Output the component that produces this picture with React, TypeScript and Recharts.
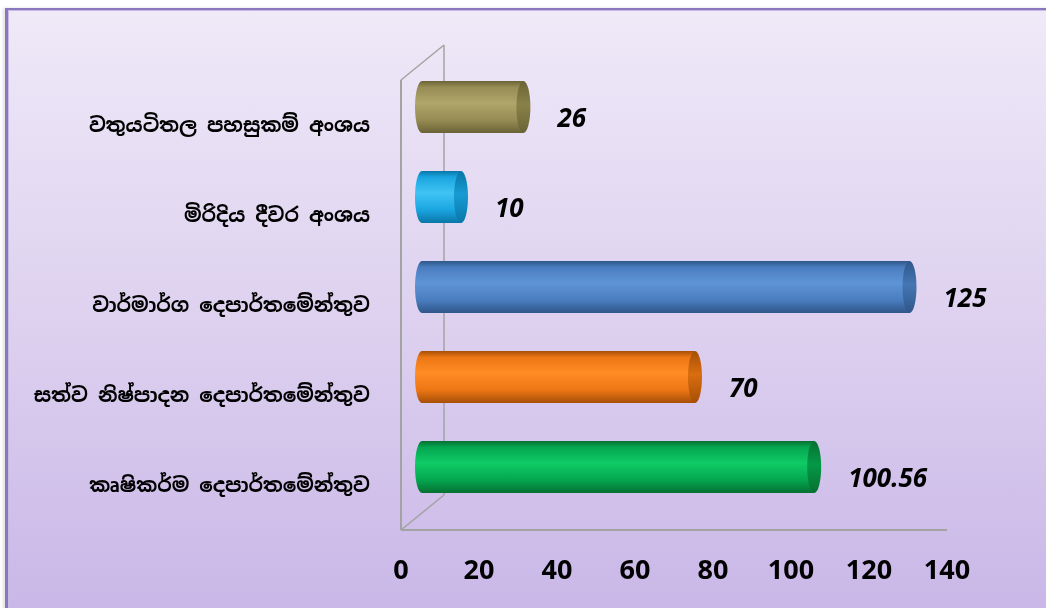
import React from "react";
import { BarChart, Bar, XAxis, YAxis, LabelList } from "recharts";

// ---- data ----
const categories = [
  "වතුයටිතල පහසුකම් අංශය",
  "මිරිදිය දීවර අංශය",
  "වාර්මාර්ග දෙපාර්තමේන්තුව",
  "සත්ව නිෂ්පාදන දෙපාර්තමේන්තුව",
  "කෘෂිකර්ම දෙපාර්තමේන්තුව",
];
const values = [26, 10, 125, 70, 100.56];
const barColors = ["olive", "cyan", "blue", "orange", "green"];
const xTicks = [0, 20, 40, 60, 80, 100, 120, 140];

const data = categories.map((name, i) => ({ name, value: values[i], color: barColors[i] }));

// ---- style ----
const palette: Record<string, { dark: string; mid: string; light: string; face: string }> = {
  olive: { dark: "#6a6336", mid: "#968c54", light: "#b0a66b", face: "#8a8149" },
  cyan: { dark: "#0a76a8", mid: "#1aa5e0", light: "#40c3f4", face: "#179bd3" },
  blue: { dark: "#2f5689", mid: "#4a7dbf", light: "#5e95d6", face: "#4576b4" },
  orange: { dark: "#a64f08", mid: "#ec7614", light: "#ff8d26", face: "#da6d0f" },
  green: { dark: "#067032", mid: "#04a650", light: "#0fcb65", face: "#059847" },
};

const NUM_FONT = "'Open Sans', 'Noto Sans', sans-serif";

const W = 1030;
const H = 597;
const MARGIN = { top: 69, right: 91, bottom: 18, left: 0 };
const YAXIS_W = 393;
const XAXIS_H = 60;
const DX = 21; // 3D depth shift of bars
const DY = -18;
const RX = 7;
const BACK_DX = 43;
const BACK_DY = -35;

const PL = MARGIN.left + YAXIS_W;
const PT = MARGIN.top;
const PB = H - MARGIN.bottom - XAXIS_H;

const Cylinder = (props: any) => {
  const { x, y, width, height, payload } = props;
  if (width == null || height == null) return null;
  const c = payload?.color || "blue";
  const x0 = x + DX;
  const x1 = x + width + DX;
  const top = y + DY;
  const bottom = top + height;
  const ry = height / 2;
  const d = `M ${x0} ${top} L ${x1} ${top} L ${x1} ${bottom} L ${x0} ${bottom} A ${RX} ${ry} 0 0 1 ${x0} ${top} Z`;
  return (
    <g>
      <path d={d} fill={`url(#body-${c})`} />
      <ellipse cx={x1} cy={top + ry} rx={RX} ry={ry} fill={`url(#face-${c})`} />
    </g>
  );
};

const ValueLabel = (props: any) => {
  let { x, y, width, height, value } = props;
  if (x == null && props.viewBox) {
    ({ x, y, width, height } = props.viewBox);
  }
  const lx = x + width + DX + RX + 27;
  const ly = y + height / 2 - 8;
  return (
    <text
      x={lx}
      y={ly}
      textAnchor="start"
      dominantBaseline="central"
      fontFamily={NUM_FONT}
      fontWeight={700}
      fontStyle="italic"
      fontSize={26}
      fill="#000"
    >
      {String(value)}
    </text>
  );
};

export default function App() {
  return (
    <div
      style={{
        position: "fixed",
        left: 5,
        top: 8,
        width: 1060,
        height: 620,
        borderTop: "2px solid #8a77bd",
        borderLeft: "3px solid #8a77bd",
        boxShadow: "inset 1px 1px 0 #c7bce3, -2px 0 3px rgba(0,0,0,0.12)",
        background: "linear-gradient(to bottom, #efe9f8 0%, #ddd1ef 50%, #c8b5e7 100%)",
        overflow: "hidden",
      }}
    >
      <div style={{ position: "absolute", left: 0, top: 1 }}>
        <BarChart width={W} height={H} data={data} layout="vertical" margin={MARGIN}>
          <defs>
            {barColors.map((c) => (
              <linearGradient key={`b-${c}`} id={`body-${c}`} x1="0" y1="0" x2="0" y2="1">
                <stop offset="0%" stopColor={palette[c].dark} />
                <stop offset="12%" stopColor={palette[c].mid} />
                <stop offset="42%" stopColor={palette[c].light} />
                <stop offset="75%" stopColor={palette[c].mid} />
                <stop offset="100%" stopColor={palette[c].dark} />
              </linearGradient>
            ))}
            {barColors.map((c) => (
              <linearGradient key={`f-${c}`} id={`face-${c}`} x1="0" y1="0" x2="0" y2="1">
                <stop offset="0%" stopColor={palette[c].dark} />
                <stop offset="45%" stopColor={palette[c].face} />
                <stop offset="100%" stopColor={palette[c].dark} />
              </linearGradient>
            ))}
          </defs>
          <g stroke="#a3a3a3" strokeWidth={1.5} fill="none">
            <line x1={PL} y1={PT} x2={PL + BACK_DX} y2={PT + BACK_DY} />
            <line x1={PL + BACK_DX} y1={PT + BACK_DY} x2={PL + BACK_DX} y2={PB + BACK_DY} />
            <line x1={PL} y1={PB} x2={PL + BACK_DX} y2={PB + BACK_DY} />
          </g>
          <XAxis
            type="number"
            domain={[0, 140]}
            ticks={xTicks}
            interval={0}
            height={XAXIS_H}
            axisLine={{ stroke: "#a3a3a3", strokeWidth: 2 }}
            tickLine={false}
            tickSize={0}
            tickMargin={30}
            tick={{ fill: "#000", fontSize: 27, fontWeight: 700, fontFamily: NUM_FONT }}
          />
          <YAxis
            type="category"
            dataKey="name"
            width={YAXIS_W}
            axisLine={{ stroke: "#a3a3a3", strokeWidth: 2 }}
            tickLine={false}
            tickSize={0}
            tickMargin={31}
            interval={0}
            tick={{
              fill: "#000",
              fontSize: 20,
              fontWeight: 700,
              fontFamily: "'Noto Sans Sinhala', 'Iskoola Pota', 'Noto Sans', sans-serif",
            }}
          />
          <Bar dataKey="value" barSize={52} shape={Cylinder} isAnimationActive={false}>
            <LabelList dataKey="value" content={ValueLabel} />
          </Bar>
        </BarChart>
      </div>
    </div>
  );
}
